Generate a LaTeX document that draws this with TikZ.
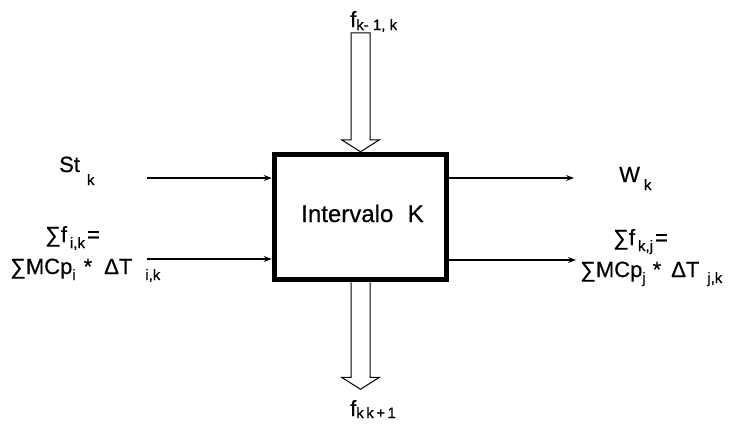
\documentclass[tikz,border=0pt]{standalone}
\usepackage{fontspec}
\setmainfont{Liberation Sans}[FakeBold=0.5]
\usetikzlibrary{arrows.meta,calc}
\newcommand{\dsub}[2][6pt]{\raisebox{-#1}{\fontsize{15}{15}\selectfont #2}}
\begin{document}
\begin{tikzpicture}[x=1pt,y=-1pt,
  lbl/.style={inner sep=0pt, anchor=base west, font=\fontsize{22}{22}\selectfont},
  conn/.style={line width=1.1pt, -{Stealth[length=8pt,width=6pt]}},
  hollow/.style={line width=1pt, line join=miter}]
\useasboundingbox (0,0) rectangle (733,426);
% central box
\node[draw, line width=5.5pt, minimum width=172pt, minimum height=125pt, inner sep=0pt] (box) at (360.5,217) {};
\node[inner sep=0pt, anchor=base, font=\fontsize{24}{24}\selectfont] (boxtxt) at (362.5,222) {Intervalo\hspace{0.6em}K};
% hollow arrows
\draw[hollow] (box.north) -- ++(-19,-12) -- ++(9.5,0) -- ++(0,-107) -- ++(19,0) -- ++(0,107) -- ++(9.5,0) -- cycle;
\draw[hollow] ($(box.south)+(-9.5,0)$) -- ++(0,95) -- ++(-9.5,0) -- ++(19,12) -- ++(19,-12) -- ++(-9.5,0) -- ++(0,-95);
% labels
\node[lbl] (ftop) at (350,27) {f\dsub[3pt]{k- 1, k}};
\node[lbl] (fbot) at (350,416) {f\dsub[2pt]{k\,k\,+\,1}};
\node[lbl] (st) at (59,172) {St\hspace{7pt}\dsub[13pt]{k}};
\node[lbl] (sf1) at (45,242) {∑f\hspace{3pt}\dsub{i,k}\hspace{2pt}=};
\node[lbl] (sm1) at (10,274) {∑MCp\dsub{i}\hspace{8pt}*\hspace{12pt}ΔT\hspace{13pt}\dsub{i,k}};
\node[lbl] (w) at (619,182) {W\hspace{4pt}\dsub[8pt]{k}};
\node[lbl] (sf2) at (613,245) {∑f\hspace{3pt}\dsub{k,j}\hspace{2pt}=};
\node[lbl] (sm2) at (580,277) {∑MCp\dsub{j}\hspace{7pt}*\hspace{10pt}ΔT\hspace{8pt}\dsub{j,k}};
% connectors
\coordinate (a1) at (147,178);
\coordinate (a2) at (147,259);
\coordinate (b1) at (574,178);
\coordinate (b2) at (576,260);
\draw[conn] (a1) -- (a1 -| box.west);
\draw[conn] (a2) -- (a2 -| box.west);
\draw[conn] (b1 -| box.east) -- (b1);
\draw[conn] (b2 -| box.east) -- (b2);
\end{tikzpicture}
\end{document}
